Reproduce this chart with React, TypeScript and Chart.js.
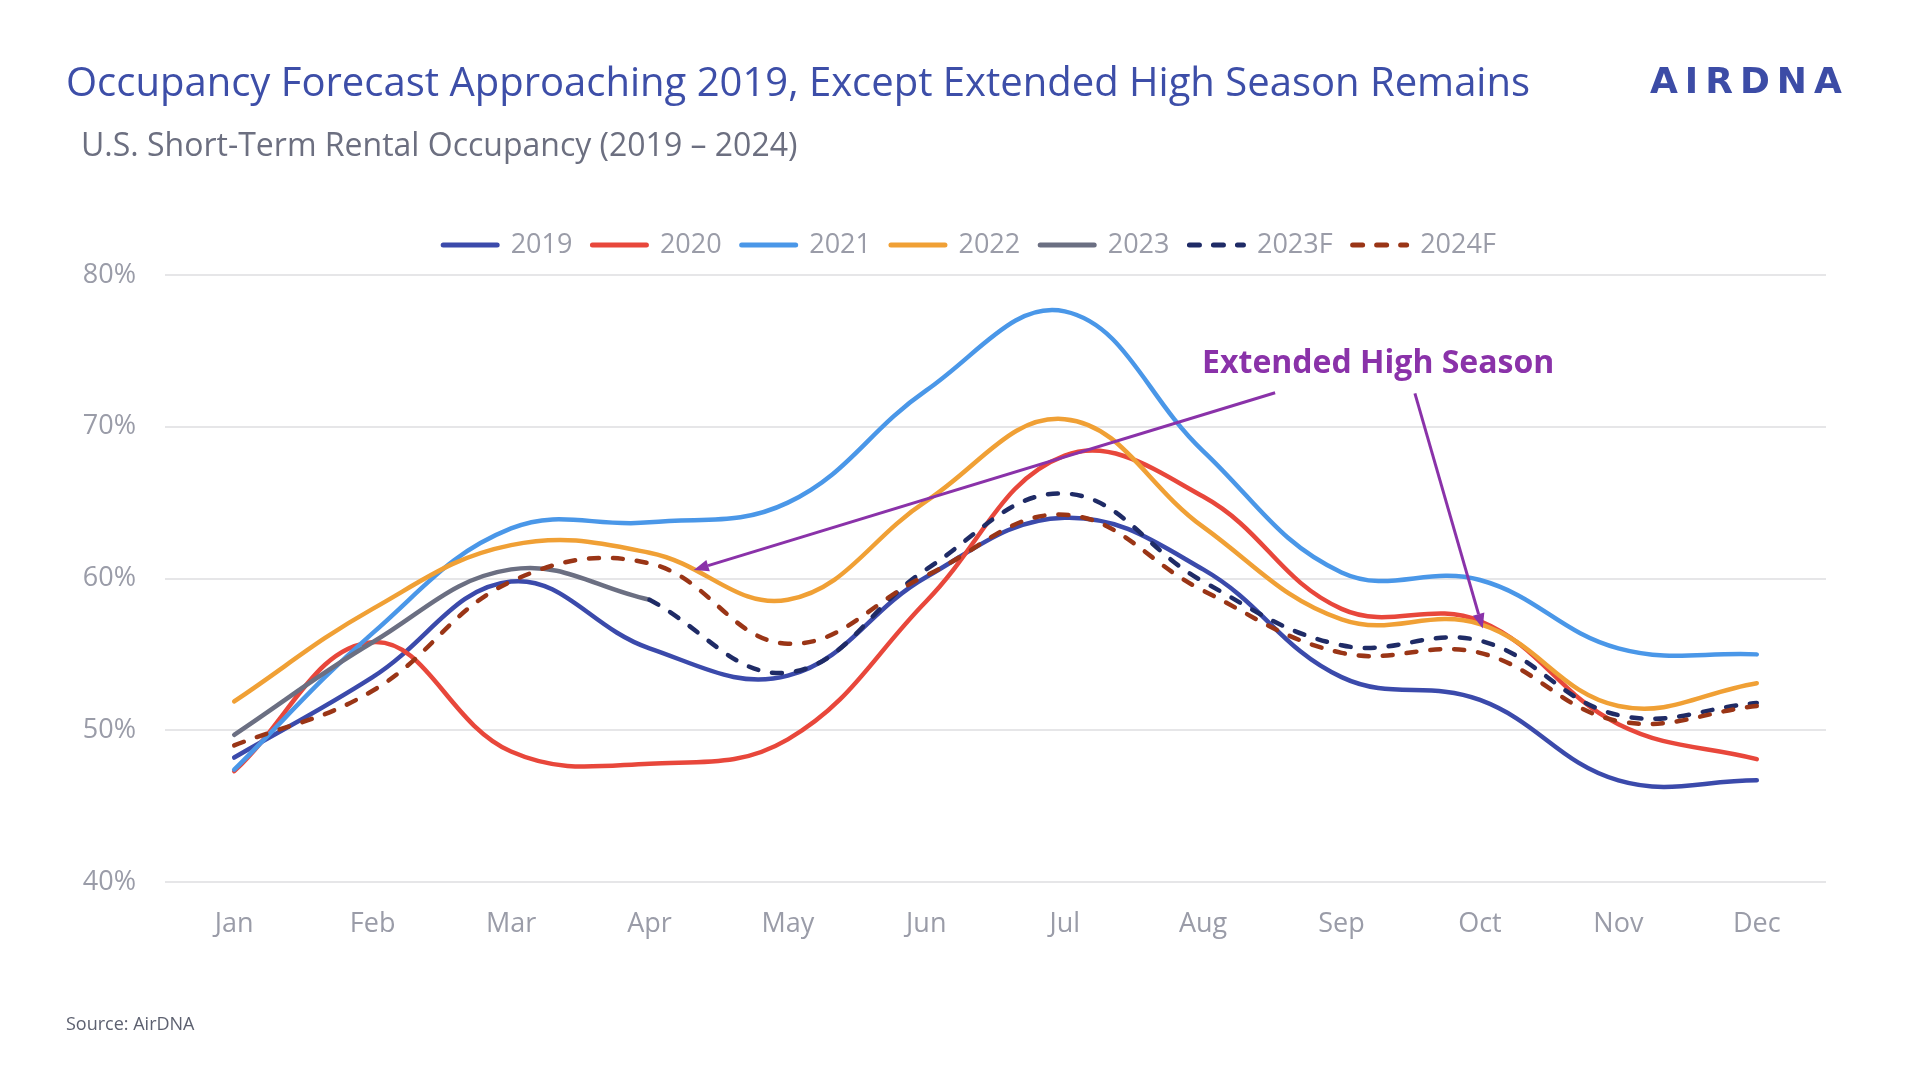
import React, { useEffect, useRef } from "react";
import { Chart, registerables } from "chart.js";

Chart.register(...registerables);

const months = ["Jan", "Feb", "Mar", "Apr", "May", "Jun", "Jul", "Aug", "Sep", "Oct", "Nov", "Dec"];
const occ2019 = [48.2, 53.5, 59.8, 55.4, 53.6, 60.1, 64.0, 60.6, 53.5, 52.0, 46.7, 46.7];
const occ2020 = [47.3, 55.8, 48.6, 47.8, 49.4, 58.5, 68.1, 65.4, 58.0, 57.2, 50.4, 48.1];
const occ2021 = [47.4, 56.4, 63.3, 63.7, 65.0, 72.4, 77.6, 68.4, 60.4, 59.9, 55.4, 55.0];
const occ2022 = [51.9, 58.0, 62.2, 61.7, 58.6, 65.1, 70.5, 63.4, 57.3, 57.0, 51.6, 53.1];
const occ2023 = [49.7, 55.8, 60.6, 58.6, null, null, null, null, null, null, null, null];
const occ2023F = [null, null, null, 58.6, 53.8, 60.6, 65.6, 59.8, 55.6, 55.9, 51.0, 51.8];
const occ2024F = [49.0, 52.6, 59.8, 61.0, 55.7, 60.2, 64.2, 59.2, 55.1, 55.1, 50.6, 51.6];
const yTicks = [40, 50, 60, 70, 80];

const seriesNames = ["2019", "2020", "2021", "2022", "2023", "2023F", "2024F"];
const seriesValues = [occ2019, occ2020, occ2021, occ2022, occ2023, occ2023F, occ2024F];
const seriesColors = ["#3b4aab", "#e8473b", "#4a97e8", "#f0a035", "#6b6f82", "#1f2b66", "#9a3516"];
const seriesDashed = [false, false, false, false, false, true, true];

// annotation, in data coordinates (category index, percent)
const annotationText = "Extended High Season";
const annotationAnchor = { x: 8.265, y: 73.55 };
const annotationArrows = [
  { from: { x: 7.52, y: 72.24 }, to: { x: 3.32, y: 60.56 } },
  { from: { x: 8.53, y: 72.2 }, to: { x: 9.02, y: 56.7 } },
];

const GRAY = "#9a9ca8";
const PURPLE = "#8a32a9";
const DASH = [10, 14];

const annotationPlugin = {
  id: "annot",
  afterDatasetsDraw(chart: any) {
    const { ctx, scales } = chart;
    const xs = scales.x;
    const ys = scales.y;
    ctx.save();
    ctx.strokeStyle = PURPLE;
    ctx.fillStyle = PURPLE;
    ctx.lineWidth = 3;
    ctx.lineCap = "butt";
    for (const a of annotationArrows) {
      const x1 = xs.getPixelForValue(a.from.x);
      const y1 = ys.getPixelForValue(a.from.y);
      const x2 = xs.getPixelForValue(a.to.x);
      const y2 = ys.getPixelForValue(a.to.y);
      const ang = Math.atan2(y2 - y1, x2 - x1);
      const len = 15;
      const hw = 6;
      const bx = x2 - Math.cos(ang) * len;
      const by = y2 - Math.sin(ang) * len;
      ctx.beginPath();
      ctx.moveTo(x1, y1);
      ctx.lineTo(bx, by);
      ctx.stroke();
      ctx.beginPath();
      ctx.moveTo(x2, y2);
      ctx.lineTo(bx + Math.sin(ang) * hw, by - Math.cos(ang) * hw);
      ctx.lineTo(bx - Math.sin(ang) * hw, by + Math.cos(ang) * hw);
      ctx.closePath();
      ctx.fill();
    }
    ctx.font = "bold 32px 'Open Sans'";
    ctx.textAlign = "center";
    ctx.textBaseline = "alphabetic";
    ctx.fillText(
      annotationText,
      xs.getPixelForValue(annotationAnchor.x),
      ys.getPixelForValue(annotationAnchor.y)
    );
    ctx.restore();
  },
};

export default function App() {
  const canvasRef = useRef<HTMLCanvasElement | null>(null);

  useEffect(() => {
    if (!canvasRef.current) return;
    const datasets = seriesNames.map((name, i) => ({
      label: name,
      data: seriesValues[i],
      borderColor: seriesColors[i],
      backgroundColor: seriesColors[i],
      borderWidth: 4.5,
      borderDash: seriesDashed[i] ? DASH : [],
      borderCapStyle: "round",
      borderJoinStyle: "round",
      pointRadius: 0,
      pointHoverRadius: 0,
      tension: 0.4,
      fill: false,
      spanGaps: false,
      order: seriesNames.length - i,
    }));

    const defaultLabels = (Chart as any).defaults.plugins.legend.labels.generateLabels;

    const chart = new Chart(canvasRef.current, {
      type: "line",
      data: { labels: months, datasets: datasets as any },
      options: {
        responsive: false,
        animation: false,
        devicePixelRatio: 1,
        layout: { padding: { left: 0, right: 82, top: 211.5, bottom: 124 } },
        font: { family: "'Open Sans'" },
        plugins: {
          tooltip: { enabled: false },
          legend: {
            display: true,
            position: "top",
            fullSize: false,
            labels: {
              usePointStyle: true,
              pointStyle: "line",
              pointStyleWidth: 54,
              boxHeight: 27,
              padding: 20,
              color: GRAY,
              font: { family: "'Open Sans'", size: 27 },
              sort: (a: any, b: any) => a.datasetIndex - b.datasetIndex,
              generateLabels: (c: any) =>
                defaultLabels(c).map((item: any) => {
                  const ds = c.data.datasets[item.datasetIndex];
                  return {
                    ...item,
                    lineDash: ds.borderDash,
                    lineCap: "round",
                    lineWidth: 5,
                    strokeStyle: ds.borderColor,
                  };
                }),
            },
          },
        },
        scales: {
          x: {
            type: "category",
            offset: true,
            grid: { display: false, drawTicks: false },
            border: { display: false },
            ticks: {
              color: GRAY,
              font: { family: "'Open Sans'", size: 27 },
              padding: 26,
              maxRotation: 0,
              autoSkip: false,
            },
            afterFit: (s: any) => {
              s.height = 60;
            },
          },
          y: {
            type: "linear",
            min: 40,
            max: 80,
            afterBuildTicks: (s: any) => {
              s.ticks = yTicks.map((v) => ({ value: v }));
            },
            grid: { color: "#e6e6e8", lineWidth: 2, drawTicks: false },
            border: { display: false },
            ticks: {
              color: GRAY,
              font: { family: "'Open Sans'", size: 27 },
              padding: 29,
              callback: (v: any) => v + "%",
            },
            afterFit: (s: any) => {
              s.width = 165;
            },
          },
        },
      },
      plugins: [annotationPlugin],
    });

    const lg: any = chart.legend;
    if (lg) {
      const fit0 = lg.fit.bind(lg);
      lg.fit = () => {
        fit0();
        lg.height += 6.5;
      };
      const draw0 = lg.draw.bind(lg);
      lg.draw = (...args: any[]) => {
        const c = lg.ctx;
        c.save();
        c.translate(-26, 0);
        draw0(...args);
        c.restore();
      };
      chart.update();
    }

    return () => chart.destroy();
  }, []);

  return (
    <div
      style={{
        position: "absolute",
        left: 0,
        top: 0,
        width: 1908,
        height: 1066,
        background: "#ffffff",
        fontFamily: "'Open Sans', sans-serif",
        overflow: "hidden",
      }}
    >
      <canvas
        ref={canvasRef}
        width={1908}
        height={1066}
        style={{ position: "absolute", left: 0, top: 0, width: 1908, height: 1066 }}
      />
      <div
        style={{
          position: "absolute",
          left: 66,
          top: 61,
          fontSize: 40,
          lineHeight: 1,
          color: "#3d4ea8",
          whiteSpace: "nowrap",
        }}
      >
        Occupancy Forecast Approaching 2019, Except Extended High Season Remains
      </div>
      <div
        style={{
          position: "absolute",
          left: 81,
          top: 128,
          fontSize: 32,
          lineHeight: 1,
          color: "#6c6f80",
          whiteSpace: "nowrap",
        }}
      >
        U.S. Short-Term Rental Occupancy (2019 – 2024)
      </div>
      <div
        style={{
          position: "absolute",
          left: 1650,
          top: 63,
          fontSize: 36,
          lineHeight: 1,
          fontFamily: "'DejaVu Sans', sans-serif",
          fontWeight: 700,
          letterSpacing: 7,
          color: "#3c4ca6",
          whiteSpace: "nowrap",
        }}
      >
        AIRDNA
      </div>
      <div
        style={{
          position: "absolute",
          left: 66,
          top: 1014,
          fontSize: 18,
          lineHeight: 1,
          color: "#5d6170",
          whiteSpace: "nowrap",
        }}
      >
        Source: AirDNA
      </div>
    </div>
  );
}
